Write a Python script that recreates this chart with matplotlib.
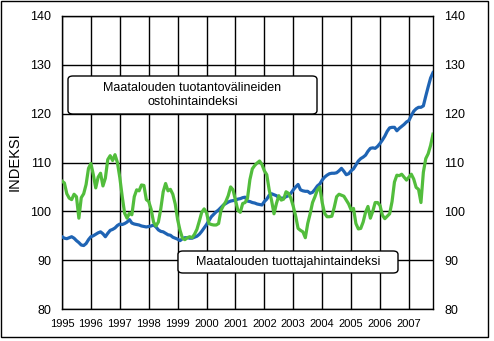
import matplotlib
matplotlib.use("Agg")
import matplotlib.pyplot as plt
from matplotlib.patches import FancyBboxPatch, Rectangle
import numpy as np

plt.rcParams['font.family'] = ['Liberation Sans', 'DejaVu Sans']

years = ['1995', '1996', '1997', '1998', '1999', '2000', '2001',
         '2002', '2003', '2004', '2005', '2006', '2007']

# Monthly index values, Jan 1995 - Nov 2007
purchase_index = [
    94.8, 94.5, 94.4, 94.6, 94.8, 94.5, 94.0, 93.6, 93.1, 93.0, 93.4, 94.2,
    94.8, 95.0, 95.3, 95.6, 95.8, 95.4, 94.8, 95.5, 96.1, 96.3, 96.6, 97.1,
    97.4, 97.3, 97.5, 97.8, 98.3, 97.6, 97.4, 97.3, 97.2, 97.0, 96.9, 96.8,
    96.9, 97.0, 97.2, 96.8, 96.2, 95.9, 95.8, 95.5, 95.2, 95.1, 94.7, 94.5,
    94.3, 94.0, 94.4, 94.6, 94.6, 94.5, 94.5, 94.7, 94.9, 95.3, 95.9, 96.6,
    97.3, 98.1, 98.9, 99.4, 99.9, 100.3, 100.8, 101.3, 101.6, 101.9, 102.1, 102.2,
    102.3, 102.5, 102.6, 102.8, 102.9, 102.1, 102.0, 101.8, 101.7, 101.5, 101.4, 101.3,
    102.0, 102.5, 103.3, 103.6, 103.4, 103.2, 102.8, 102.7, 102.7, 103.0, 103.2, 103.7,
    104.4, 105.0, 105.5, 104.4, 104.2, 104.1, 104.1, 103.7, 103.9, 104.5, 105.2, 105.6,
    106.4, 107.0, 107.4, 107.7, 107.8, 107.8, 107.9, 108.3, 108.8, 108.2, 107.5, 107.7,
    108.3, 108.7, 109.5, 110.3, 110.8, 111.1, 111.5, 112.3, 112.9, 113.0, 112.9, 113.3,
    113.9, 114.6, 115.4, 116.4, 117.1, 117.2, 117.2, 116.5, 117.0, 117.4, 117.8, 118.3,
    118.6, 119.6, 120.5, 121.0, 121.3, 121.3, 121.6, 123.6, 125.5, 127.3, 128.4,
]

producer_index = [
    106.2, 105.8, 103.6, 102.7, 102.4, 103.5, 103.0, 98.6, 102.8, 103.6, 105.5, 108.8,
    109.8, 107.5, 104.8, 107.0, 107.8, 105.2, 106.8, 110.6, 111.4, 110.4, 111.6, 110.0,
    106.9, 103.0, 99.6, 98.6, 99.6, 99.3, 103.0, 104.4, 104.2, 105.4, 105.3, 102.4,
    102.0, 100.4, 97.8, 97.0, 97.8, 100.5, 104.0, 105.7, 104.2, 104.5, 103.5, 101.5,
    98.3, 96.1, 94.5, 94.2, 94.6, 94.8, 94.6, 95.3, 96.3, 98.0, 99.8, 100.5,
    99.7, 97.5, 97.3, 97.2, 97.2, 97.5, 100.2, 101.2, 102.0, 103.2, 105.0, 104.4,
    102.3, 100.2, 99.8, 101.6, 101.8, 102.7, 106.5, 108.7, 109.4, 109.9, 110.3, 109.6,
    108.3, 107.5, 104.4, 102.2, 99.5, 101.6, 103.2, 102.3, 102.5, 104.0, 103.7, 102.7,
    101.0, 99.0, 96.5, 96.1, 95.8, 94.6, 97.5, 99.5, 101.8, 103.0, 104.4, 105.0,
    101.8, 99.6, 98.9, 98.9, 99.0, 100.8, 103.0, 103.5, 103.3, 103.1, 102.3, 101.5,
    100.3, 100.6, 97.5, 96.4, 96.5, 97.8, 99.8, 101.0, 98.6, 100.0, 101.8, 101.8,
    101.2, 99.2, 98.5, 99.0, 99.5, 102.0, 106.0, 107.4, 107.3, 107.6, 107.0, 106.4,
    107.0, 107.6, 106.6, 104.9, 104.5, 101.8, 108.0, 110.8, 111.8, 113.5, 115.8,
]

label_purchase = "Maatalouden tuotantovälineiden\nostohintaindeksi"
label_producer = "Maatalouden tuottajahintaindeksi"
y_title = "INDEKSI"

W, H = 494, 341
fig = plt.figure(figsize=(W / 100, H / 100), dpi=100)
fig.patch.set_facecolor('white')

L, R, T, B = 62, 433, 16, 309
ax = fig.add_axes([L / W, 1 - B / H, (R - L) / W, (B - T) / H])

months = np.arange(len(purchase_index))
ax.plot(months, purchase_index, color='#1f64b4', lw=2.3, solid_joinstyle='round', zorder=3)
ax.plot(months, producer_index, color='#52bd3c', lw=2.3, solid_joinstyle='round', zorder=4)

ax.set_xlim(0, len(purchase_index) - 1)
ax.set_ylim(80, 140)
ax.set_xticks(np.arange(len(years)) * 12)
ax.set_xticklabels(years, fontsize=8)
ax.set_yticks(np.arange(80, 141, 10))
ax.tick_params(axis='both', length=0, colors='black')
ax.tick_params(axis='x', pad=7)
ax.tick_params(axis='y', labelsize=9, pad=8, labelright=True, right=True)
ax.grid(True, color='black', lw=1.0)
ax.set_axisbelow(True)
for s in ax.spines.values():
    s.set_color('black')
    s.set_linewidth(1.0)

fig.text(15 / W, 1 - 162 / H, y_title, rotation=90, ha='center', va='center', fontsize=10.5)

# annotation boxes (figure pixel coordinates)
def box(x0, y0, x1, y1, text):
    p = FancyBboxPatch((x0 / W, 1 - y1 / H), (x1 - x0) / W, (y1 - y0) / H,
                       boxstyle="round,pad=0,rounding_size=0.01",
                       transform=fig.transFigure, facecolor='white',
                       edgecolor='black', lw=1.0, zorder=10)
    fig.add_artist(p)
    fig.text((x0 + x1) / 2 / W, 1 - (y0 + y1) / 2 / H, text, ha='center', va='center',
             fontsize=9, linespacing=1.25, zorder=11)

box(68, 76, 317, 114, label_purchase)
box(178, 251, 398, 273, label_producer)

fig.add_artist(Rectangle((0.5 / W, 4.5 / H), 487.5 / W, 336 / H, transform=fig.transFigure,
                         fill=False, edgecolor='black', lw=1.0))

fig.savefig('out.png', dpi=100)
